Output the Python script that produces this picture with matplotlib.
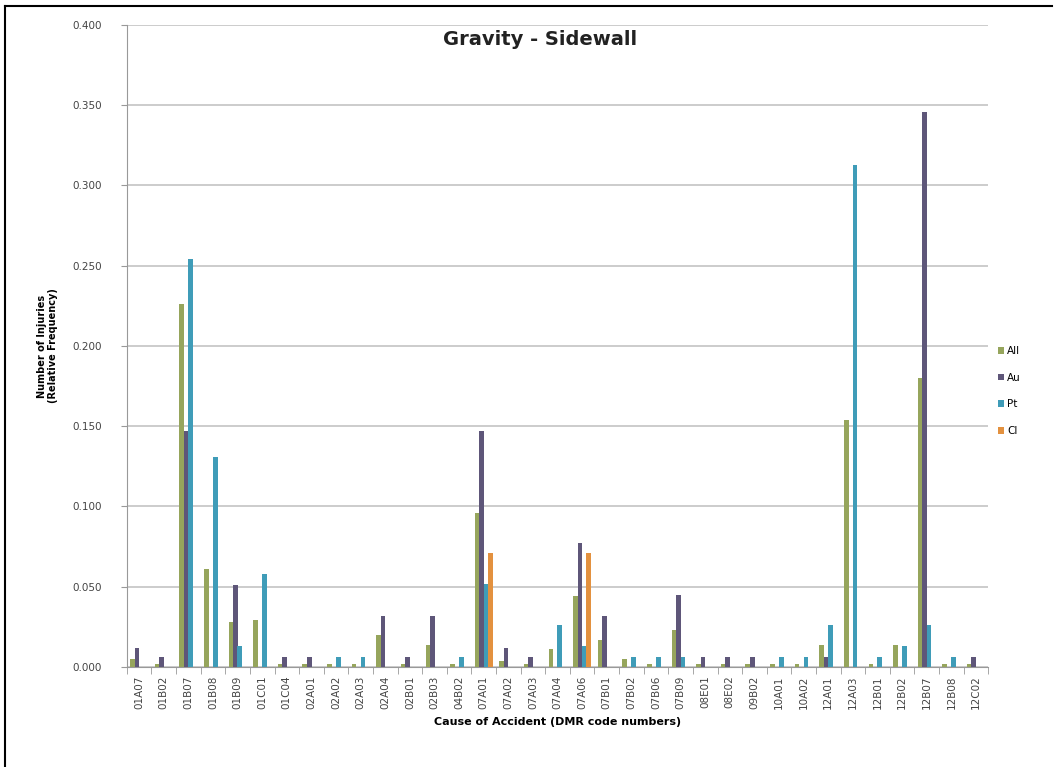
import numpy as np
import matplotlib
matplotlib.use('Agg')
import matplotlib.pyplot as plt
from matplotlib.lines import Line2D

# data
codes = ['01A07', '01B02', '01B07', '01B08', '01B09', '01C01', '01C04', '02A01',
         '02A02', '02A03', '02A04', '02B01', '02B03', '04B02', '07A01', '07A02',
         '07A03', '07A04', '07A06', '07B01', '07B02', '07B06', '07B09', '08E01',
         '08E02', '09B02', '10A01', '10A02', '12A01', '12A03', '12B01', '12B02',
         '12B07', '12B08', '12C02']

all_vals = [0.005, 0.002, 0.226, 0.061, 0.028, 0.029, 0.002, 0.002,
            0.002, 0.002, 0.020, 0.002, 0.014, 0.002, 0.096, 0.004,
            0.002, 0.011, 0.044, 0.017, 0.005, 0.002, 0.023, 0.002,
            0.002, 0.002, 0.002, 0.002, 0.014, 0.154, 0.002, 0.014,
            0.180, 0.002, 0.002]
au_vals = [0.012, 0.006, 0.147, 0.0, 0.051, 0.0, 0.006, 0.006,
           0.0, 0.0, 0.032, 0.006, 0.032, 0.0, 0.147, 0.012,
           0.006, 0.0, 0.077, 0.032, 0.0, 0.0, 0.045, 0.006,
           0.006, 0.006, 0.0, 0.0, 0.006, 0.0, 0.0, 0.0,
           0.346, 0.0, 0.006]
pt_vals = [0.0, 0.0, 0.254, 0.131, 0.013, 0.058, 0.0, 0.0,
           0.006, 0.006, 0.0, 0.0, 0.0, 0.006, 0.052, 0.0,
           0.0, 0.026, 0.013, 0.0, 0.006, 0.006, 0.006, 0.0,
           0.0, 0.0, 0.006, 0.006, 0.026, 0.313, 0.006, 0.013,
           0.026, 0.006, 0.0]
cl_vals = [0.0] * 35
cl_vals[14] = 0.071
cl_vals[18] = 0.071

series = [('All', all_vals, '#96a55c'),
          ('Au', au_vals, '#5e5679'),
          ('Pt', pt_vals, '#3f9cb8'),
          ('Cl', cl_vals, '#e3913f')]

fig = plt.figure(figsize=(10.57, 7.67), dpi=100)
ax = fig.add_axes([0.120, 0.1304, 0.815, 0.837])

x = np.arange(len(codes))
w = 0.19
offsets = [-0.27, -0.09, 0.09, 0.27]
for (name, vals, col), off in zip(series, offsets):
    ax.bar(x + off, vals, width=w, color=col, label=name, zorder=3)

ax.set_xlim(-0.5, len(codes) - 0.5)
ax.set_ylim(0, 0.4)
ax.set_yticks(np.arange(0, 0.401, 0.05))
ax.set_yticklabels(['%.3f' % v for v in np.arange(0, 0.401, 0.05)],
                   fontsize=7.5, color='#444444')
ax.yaxis.grid(True, color='#c4c4c4', linewidth=1.2, zorder=0)

ax.set_xticks(x)
ax.set_xticklabels(codes, rotation=90, fontsize=7.5, color='#444444')
ax.tick_params(axis='x', length=0, pad=6)
ax.set_xticks(np.arange(-0.5, len(codes), 1), minor=True)
ax.tick_params(axis='x', which='minor', length=5, color='#999999')
ax.tick_params(axis='y', length=4, color='#999999', pad=14)

for s in ['top', 'right']:
    ax.spines[s].set_visible(False)
ax.spines['left'].set_color('#999999')
ax.spines['bottom'].set_color('#999999')

ax.set_xlabel('Cause of Accident (DMR code numbers)', fontsize=8,
              fontweight='bold', labelpad=6)
ax.set_ylabel('Number of Injuries\n(Relative Frequency)', fontsize=7,
              fontweight='bold', labelpad=10)

fig.text(0.511, 0.948, 'Gravity - Sidewall', fontsize=14, fontweight='bold',
         ha='center', va='center', color='#222222')

ax.legend(loc='center left', bbox_to_anchor=(1.0, 0.43), frameon=False,
          fontsize=7.5, handlelength=0.6, handleheight=0.6,
          handletextpad=0.3, labelspacing=1.6)

# outer frame of the chart area
fig.add_artist(Line2D([0.005, 0.005], [0.0, 0.992], color='black', lw=1.5,
                      transform=fig.transFigure))
fig.add_artist(Line2D([0.005, 0.995], [0.992, 0.992], color='black', lw=1.5,
                      transform=fig.transFigure))

fig.savefig('out.png', dpi=100)
